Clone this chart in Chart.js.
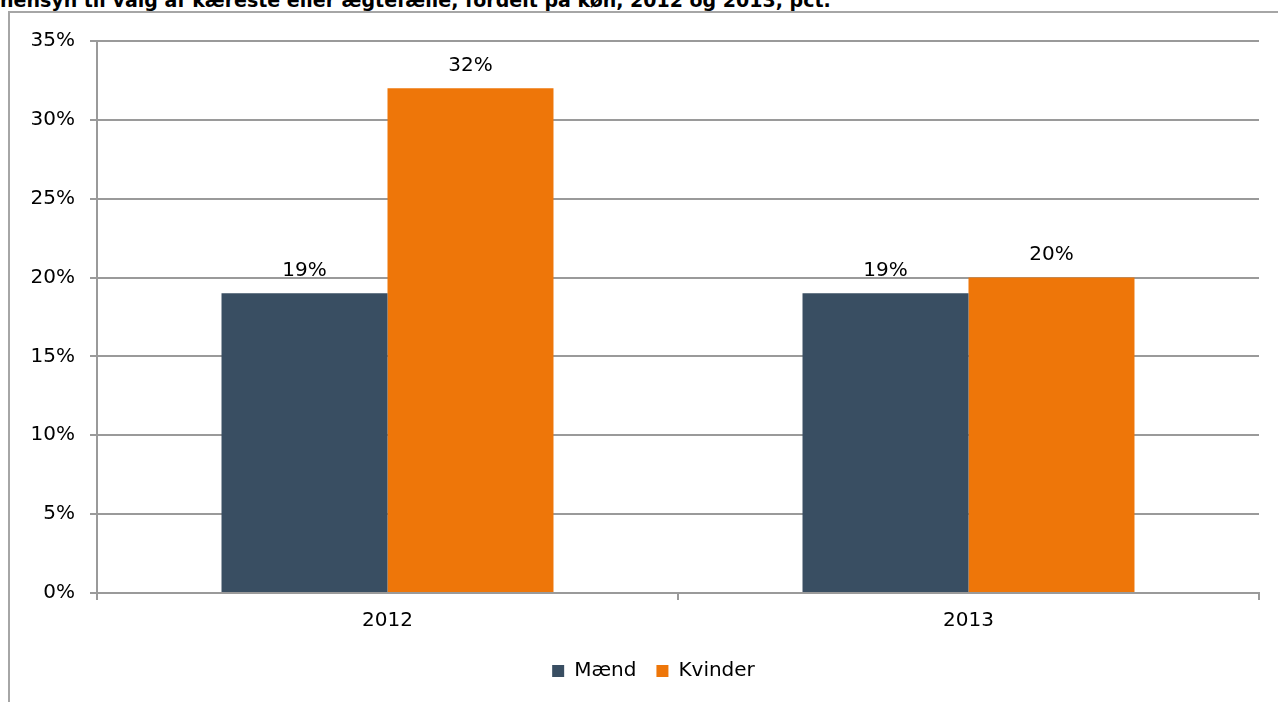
<!DOCTYPE html>
<html>
<head>
<meta charset="utf-8">
<script src="https://cdn.jsdelivr.net/npm/chart.js@4"></script>
<style>
  html, body { margin: 0; padding: 0; background: #fff; }
  #wrap { position: relative; width: 1278px; height: 702px; overflow: hidden; }
  #title {
    position: absolute; left: 0; top: -12px; white-space: nowrap;
    font: bold 19px "DejaVu Sans", Verdana, sans-serif; color: #000; line-height: 24px;
  }
  #frame {
    position: absolute; left: 8px; top: 11px; width: 1300px; height: 700px;
    border-left: 2px solid #a6a6a6; border-top: 2px solid #a6a6a6;
  }
  #myChart { position: absolute; left: 0; top: 0; }
</style>
</head>
<body>
<div id="wrap">
  <div id="title">hensyn til valg af kæreste eller ægtefælle, fordelt på køn, 2012 og 2013, pct.</div>
  <div id="frame"></div>
  <canvas id="myChart" width="1278" height="702"></canvas>
</div>
<script>
const years = ['2012', '2013'];
const maend = [19, 19];
const kvinder = [32, 20];
const yTicks = [0, 5, 10, 15, 20, 25, 30, 35];

const ctx = document.getElementById('myChart');
const font = { family: '"DejaVu Sans", Verdana, sans-serif', size: 20 };

// labels over each bar, placed from the bar elements
const barLabels = {
  id: 'barLabels',
  afterDatasetsDraw(chart) {
    const c = chart.ctx;
    c.save();
    c.font = '20px "DejaVu Sans", Verdana, sans-serif';
    c.fillStyle = '#000';
    c.textAlign = 'center';
    c.textBaseline = 'middle';
    chart.data.datasets.forEach((ds, i) => {
      chart.getDatasetMeta(i).data.forEach((bar, j) => {
        c.fillText(ds.data[j] + '%', bar.x, bar.y - 23);
      });
    });
    c.restore();
  }
};

// the legend in the original sits a bit right of the plot centre
const shiftLegend = {
  id: 'shiftLegend',
  afterLayout(chart) {
    chart.legend.left += 17;
    chart.legend.right += 17;
  }
};

new Chart(ctx, {
  type: 'bar',
  data: {
    labels: years,
    datasets: [
      { label: 'Mænd', data: maend, backgroundColor: '#394e62' },
      { label: 'Kvinder', data: kvinder, backgroundColor: '#ee7609' }
    ]
  },
  options: {
    responsive: false,
    animation: false,
    categoryPercentage: 0.5714,
    barPercentage: 1.0,
    layout: { padding: { left: 14, right: 19, top: 41, bottom: 11 } },
    plugins: {
      title: { display: false },
      tooltip: { enabled: false },
      legend: {
        position: 'bottom',
        labels: { font: font, color: '#000', boxWidth: 12, boxHeight: 12, padding: 20 }
      }
    },
    scales: {
      x: {
        grid: { drawOnChartArea: false, drawTicks: true, tickLength: 7, color: '#9a9a9a', lineWidth: 2 },
        border: { color: '#9a9a9a', width: 2 },
        ticks: { font: font, color: '#000', padding: 9 },
        afterFit(scale) { scale.height = 48; }
      },
      y: {
        min: 0,
        max: 35,
        afterBuildTicks(scale) { scale.ticks = yTicks.map(v => ({ value: v })); },
        grid: { color: '#9a9a9a', lineWidth: 2, tickLength: 7 },
        border: { color: '#9a9a9a', width: 2 },
        ticks: { font: font, color: '#000', padding: 15, callback: v => v + '%' },
        afterFit(scale) { scale.width = 83; }
      }
    }
  },
  plugins: [barLabels, shiftLegend]
});
</script>
</body>
</html>
